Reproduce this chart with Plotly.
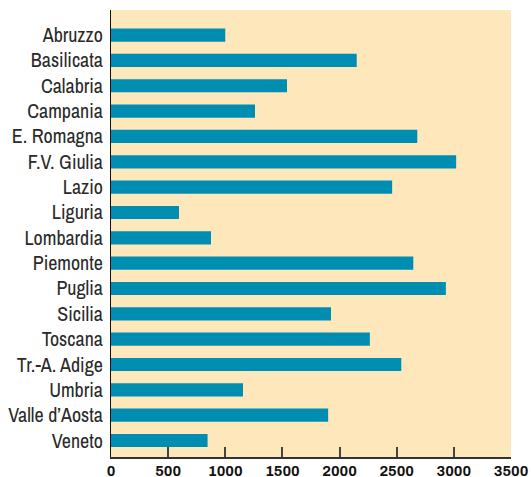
import plotly.graph_objects as go

regions = ["Abruzzo", "Basilicata", "Calabria", "Campania", "E. Romagna", "F.V. Giulia",
           "Lazio", "Liguria", "Lombardia", "Piemonte", "Puglia", "Sicilia", "Toscana",
           "Tr.-A. Adige", "Umbria", "Valle d\u2019Aosta", "Veneto"]
values = [1000, 2150, 1540, 1260, 2680, 3020, 2460, 595, 875, 2645, 2930, 1925, 2265,
          2540, 1155, 1900, 845]
x_ticks = [0, 500, 1000, 1500, 2000, 2500, 3000, 3500]

fig = go.Figure(go.Bar(
    y=list(range(len(regions))), x=values, orientation="h",
    marker=dict(color="#008db2", line=dict(width=0)), width=0.52,
))

fig.update_layout(
    width=531, height=477,
    margin=dict(l=111, r=20, t=10, b=20, autoexpand=False),
    paper_bgcolor="white", plot_bgcolor="#fde7bb",
    showlegend=False,
    font=dict(family="Archivo Narrow, Liberation Sans, Arial", color="#222"),
)
fig.update_xaxes(
    range=[0, 3500], tickvals=x_ticks, ticktext=[str(v) for v in x_ticks],
    showgrid=False, zeroline=False, showline=True, linecolor="#333", linewidth=1.5,
    ticks="inside", ticklen=10, tickcolor="#444", tickwidth=1.5, automargin=False,
    tickfont=dict(family="Archivo, Liberation Sans, Arial", size=14.5, color="#111", weight="bold"),
)
fig.update_yaxes(
    range=[16.65, -0.99], tickvals=list(range(len(regions))), ticktext=regions,
    showgrid=False, zeroline=False, showline=True, linecolor="#111", linewidth=1.2,
    ticks="", ticklabelstandoff=3, automargin=False,
    tickfont=dict(size=20, color="#2a2a2a"),
)
fig.write_html("out.html", config={"displayModeBar": False},
               post_script="document.body.style.margin='0px';document.body.style.overflow='hidden';")
